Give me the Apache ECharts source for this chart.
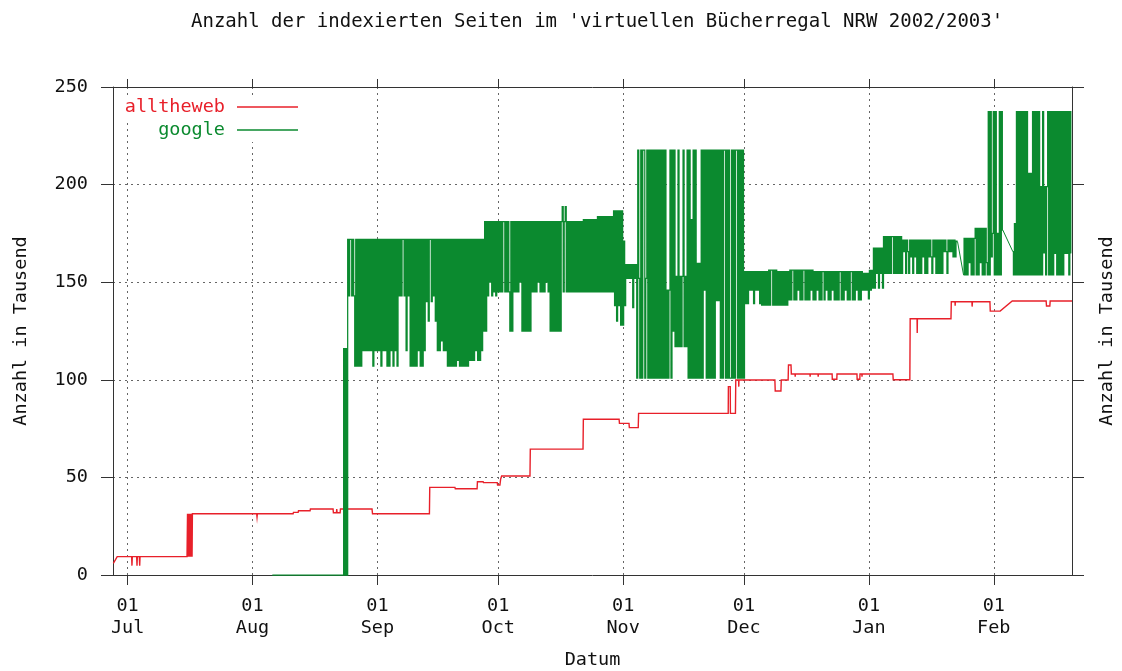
<!DOCTYPE html>
<html><head><meta charset="utf-8">
<script src="https://cdn.jsdelivr.net/npm/echarts@6/dist/echarts.min.js"></script>
<style>html,body{margin:0;padding:0;background:#fff}#c{width:1122px;height:671px}</style>
</head><body><div id="c"></div>
<script>
// ---------- DATA ----------
const titleText = "Anzahl der indexierten Seiten im 'virtuellen Bücherregal NRW 2002/2003'";
const seriesNames = ['alltheweb', 'google'];
const xMin = '2002-06-27 09:00';
const xMax = '2003-02-20 10:00';
const xTickDates = ['2002-07-01','2002-08-01','2002-09-01','2002-10-01','2002-11-01','2002-12-01','2003-01-01','2003-02-01'];
const xTickLabels = ['01\nJul','01\nAug','01\nSep','01\nOct','01\nNov','01\nDec','01\nJan','01\nFeb'];
const yMin = 0, yMax = 250, yStep = 50;

// alltheweb: [time, value in thousands]
const alltheweb = [
['2002-06-27 11:00',6],['2002-06-28 10:00',9.4],
['2002-07-02 00:00',9.4],['2002-07-02 02:00',4.8],['2002-07-02 04:00',9.4],
['2002-07-03 06:00',9.4],['2002-07-03 08:00',4.8],['2002-07-03 10:00',9.4],
['2002-07-03 22:00',9.4],['2002-07-04 00:00',4.8],['2002-07-04 02:00',9.4],
['2002-07-15 18:00',9.4],['2002-07-15 21:00',31.4],['2002-07-16 00:00',9.4],['2002-07-16 03:00',31.4],['2002-07-16 06:00',9.4],['2002-07-16 09:00',31.4],['2002-07-16 12:00',9.4],['2002-07-16 15:00',31.4],['2002-07-16 18:00',9.4],['2002-07-16 21:00',31.4],['2002-07-17 00:00',9.4],['2002-07-17 02:00',31.4],
['2002-08-02 01:00',31.4],['2002-08-02 03:00',29.7],['2002-08-02 05:00',31.4],
['2002-08-11 02:00',31.4],['2002-08-11 04:00',32.1],
['2002-08-12 08:00',32.1],['2002-08-12 10:00',32.9],
['2002-08-15 07:00',32.9],['2002-08-15 09:00',33.8],
['2002-08-21 00:00',33.8],['2002-08-21 02:00',31.9],['2002-08-21 20:00',31.9],['2002-08-21 22:00',33.8],['2002-08-22 00:00',31.9],['2002-08-22 18:00',31.9],['2002-08-22 20:00',33.8],
['2002-08-30 16:00',33.8],['2002-08-30 19:00',31.4],
['2002-09-13 22:00',31.4],['2002-09-14 00:00',44.9],
['2002-09-20 06:00',44.9],['2002-09-20 08:00',44.2],
['2002-09-25 18:00',44.2],['2002-09-25 20:00',47.8],
['2002-09-27 06:00',47.8],['2002-09-27 08:00',47.3],
['2002-09-30 18:00',47.3],['2002-09-30 20:00',46.1],
['2002-10-01 10:00',46.1],['2002-10-01 14:00',49],['2002-10-01 20:00',50.7],
['2002-10-08 21:00',50.7],['2002-10-08 23:00',64.5],
['2002-10-22 01:00',64.5],['2002-10-22 03:00',79.8],
['2002-10-31 00:00',79.8],['2002-10-31 02:00',77.7],
['2002-11-02 11:00',77.7],['2002-11-02 13:00',75.5],
['2002-11-04 18:00',75.5],['2002-11-04 20:00',82.8],
['2002-11-27 02:00',82.8],['2002-11-27 03:00',96.5],['2002-11-27 14:00',96.5],['2002-11-27 15:00',82.8],
['2002-11-28 21:00',82.8],['2002-11-28 23:00',99.9],
['2002-11-29 16:00',99.9],['2002-11-29 17:00',96.5],['2002-11-29 18:00',99.9],
['2002-12-08 16:00',99.9],['2002-12-08 18:00',94.3],
['2002-12-10 04:00',94.3],['2002-12-10 06:00',99.9],
['2002-12-11 23:00',99.9],['2002-12-12 01:00',107.6],
['2002-12-12 16:00',107.6],['2002-12-12 18:00',103],
['2002-12-13 16:00',103],['2002-12-13 17:00',101.6],['2002-12-13 18:00',103],
['2002-12-17 09:00',103],['2002-12-17 10:00',101.6],['2002-12-17 11:00',103],
['2002-12-19 09:00',103],['2002-12-19 10:00',101.6],['2002-12-19 11:00',103],
['2002-12-22 21:00',103],['2002-12-22 22:00',100.3],['2002-12-24 01:00',100.3],['2002-12-24 02:00',103],
['2002-12-29 01:00',103],['2002-12-29 02:00',100.3],['2002-12-29 18:00',100.3],['2002-12-29 19:00',103],
['2002-12-30 06:00',103],['2002-12-30 07:00',101.6],['2002-12-30 08:00',103],
['2003-01-06 23:00',103],['2003-01-07 01:00',100],
['2003-01-11 04:00',100],['2003-01-11 06:00',131.3],
['2003-01-12 23:00',131.3],['2003-01-13 00:00',124],['2003-01-13 01:00',131.3],
['2003-01-21 09:00',131.3],['2003-01-21 11:00',140],
['2003-01-22 09:00',140],['2003-01-22 10:00',138],['2003-01-22 11:00',140],
['2003-01-26 14:00',140],['2003-01-26 15:00',137.5],['2003-01-26 17:00',140],
['2003-01-31 01:00',140],['2003-01-31 03:00',135.2],
['2003-02-02 14:00',135.2],['2003-02-05 14:00',140.4],
['2003-02-14 00:00',140.4],['2003-02-14 02:00',137.8],['2003-02-14 22:00',137.8],['2003-02-15 00:00',140.4],
['2003-02-20 10:00',140.4]
];

// google: readings every 6 hours, one array per contiguous stretch
const googleLead = [['2002-08-05 22:00', 0]];
const googleAugStart = '2002-08-23 12:00';
const googleAug = [0,116,0,116,0,
 172,143,172,172,143,172,143,
 107,172,107,172,107,172,107,172,115,
 172,115,172,115,172,115,172,115,172,107,172,115,172];
const googleSepStart = '2002-09-01 00:00';
const googleSep = [115,172,115,172,107,172,115,172,115,
 172,107,172,107,172,115,172,107,172,115,172,107,172,
 143,172,143,172,172,143,172,115,172,143,172,
 107,172,107,172,107,172,107,172,115,172,107,172,107,172,115,172,
 140,172,130,172,172,140,172,143,172,130,
 172,115,172,115,172,120,172,115,172,115,
 172,107,172,107,172,107,172,107,172,107,172,110,172,107,172,107,172,107,172,107,172,107,172,110,172,
 110,172,110,172,115,172,110,172,110,172,115,172,
 125,181,125,181,
 143,181,150,181,143,181,145,181,143,181];
const googleOctStart = '2002-10-01 00:00';
const googleOct = [145,181,145,181,145,181,181,145,181,145,181,145,
 125,181,125,
 181,145,181,145,181,145,181,150,181,
 125,181,125,181,125,181,125,181,125,181,
 145,181,145,181,145,181,150,181,145,181,145,181,145,181,150,181,145,181,
 125,181,125,181,125,181,125,181,125,181,125,181,
 188.7,145,181,188.7,145,
 181,145,181,145,181,145,181,145,181,145,181,145,181,145,181,145,
 182,145,182,145,182,145,182,145,182,145,182,145,182,145,
 183.6,145,183.6,145,183.6,145,183.6,145,183.6,145,183.6,145,183.6,145,183.6,145,
 186.5,138,186.5,130,186.5,138,186.5,128,186.5];
const googleNovStart = '2002-11-01 00:00';
const googleNov = [128,171,138,159,
 152,159,152,159,152,159,137,159,152,159,
 100.8,217.7,152,
 100.8,217.7,100.8,217.7,217.7,100.8,152,217.7,100.8,217.7,
 100.8,217.7,100.8,217.7,100.8,217.7,100.8,217.7,100.8,217.7,100.8,217.7,100.8,217.7,100.8,217.7,100.8,
 146,100.8,146,
 217.7,100.8,217.7,125,217.7,
 117,153,117,217.7,117,153,117,153,217.7,117,153,117,
 217.7,100.8,217.7,100.8,182,100.8,217.7,100.8,217.7,100.8,
 159.7,100.8,159.7,
 100.8,217.7,100.8,217.7,146,217.7,100.8,217.7,100.8,217.7,100.8,217.7,100.8,217.7,100.8,
 217.7,140.6,217.7,140.6,217.7,
 100.8,217.7,100.8,217.7,217.7,100.8,217.7,100.8,217.7,100.8,100.8,217.7,100.8,217.7,100.8,217.7,217.7,100.8,217.7,100.8,217.7,100.8,217.7];
const googleDecStart = '2002-12-01 00:00';
const googleDec = [100.8,155.4,139,155.4,139,
 155.4,146,155.4,146,155.4,139,155.4,146,155.4,146,155.4,139,
 155.4,138.3,155.4,138.3,155.4,138.3,155.4,
 138.3,156.2,138.3,156.2,156.2,138.3,156.2,138.3,156.2,138.3,
 155.4,138.3,155.4,138.3,155.4,138.3,155.4,138.3,155.4,138.3,155.4,
 140.9,156.2,140.9,156.2,156.2,140.9,156.2,140.9,156.2,146,156.2,140.9,156.2,140.9,156.2,156.2,140.9,156.2,140.9,156.2,140.9,156.2,146,156.2,
 140.9,155.4,140.9,155.4,146,155.4,140.9,155.4,140.9,155.4,155.4,140.9,155.4,146,155.4,140.9,155.4,140.9,155.4,146,155.4,140.9,155.4,
 140.9,155.4,140.9,155.4,155.4,140.9,155.4,140.9,155.4,146,155.4,140.9,155.4,140.9,155.4,155.4,140.9,155.4,140.9,155.4,146,155.4,140.9,155.4,140.9,155.4,146,154.5,146,154.5,146,154.5];
const googleJanStart = '2003-01-01 00:00';
const googleJan = [141.5,156,146,156,
 147,167.4,147,167.4,154.5,167.4,147,167.4,154.5,167.4,147,
 173.3,154.5,173.3,154.5,
 173.3,154.5,173.3,154.5,173.3,173.3,154.5,173.3,154.5,173.3,154.5,173.3,154.5,173.3,154.5,
 171.6,165.6,171.6,154.5,171.6,165.6,154.5,171.6,
 163,171.6,154.5,171.6,163,171.6,154.5,171.6,154.5,171.6,154.5,171.6,163,171.6,154.5,171.6,154.5,
 171.6,163,171.6,163,154.5,171.6,163,171.6,154.5,171.6,
 154.5,171.6,154.5,171.6,154.5,
 171.6,165.6,171.6,165.6,154.5,171.6,165.6,171.6,165.6,171.6,
 163,171.6,163,171,170.8];
const googleLateJanStart = '2003-01-24 12:00';
const googleLateJan = [153.7,172.5,153.7,172.5,153.7,172.5,160,172.5,153.7,172.5,153.7,172.5,
 177.6,153.7,177.6,153.7,177.6,160,177.6,153.7,
 177.6,153.7,177.6,160,153.7,
 237.4,153.7,237.4,163,
 175,
 237.4,153.7,237.4,153.7,175,153.7,237.4,153.7,237.4,176.7];
const googleFebStart = '2003-02-05 18:00';
const googleFeb = [165.6,153.7,180,153.7,237.4,
 153.7,237.4,153.7,237.4,153.7,237.4,153.7,237.4,153.7,237.4,153.7,
 205.8,153.7,205.8,153.7,
 237.4,153.7,237.4,153.7,237.4,153.7,237.4,153.7,
 199,153.7,237.4,165,199,153.7,199,
 237.4,153.7,237.4,153.7,237.4,153.7,237.4,164.8,237.4,153.7,237.4,153.7,237.4,153.7,237.4,153.7,237.4,164.8,237.4,164.8,237.4,153.7,237.4,165];

// ---------- BUILD ----------
function ts(s) {
  const m = s.match(/(\d+)-(\d+)-(\d+)(?:\s+(\d+):(\d+))?/);
  return new Date(+m[1], +m[2] - 1, +m[3], +(m[4] || 0), +(m[5] || 0)).getTime();
}
const STEP = 6 * 3600 * 1000;
function stretch(start, vals) { const t0 = ts(start); return vals.map((v, i) => [t0 + i * STEP, v]); }
const redData = alltheweb.map(p => [ts(p[0]), p[1]]);
const sMain = [].concat(
  googleLead.map(p => [ts(p[0]), p[1]]),
  stretch(googleAugStart, googleAug),
  stretch(googleSepStart, googleSep),
  stretch(googleOctStart, googleOct),
  stretch(googleNovStart, googleNov),
  stretch(googleDecStart, googleDec),
  stretch(googleJanStart, googleJan)
);
const sLate = stretch(googleLateJanStart, googleLateJan);
const sFeb = stretch(googleFebStart, googleFeb);
const greenStretches = [sMain, sLate, sFeb];
// straight joins across the gaps without readings
const greenJoins = [sMain[sMain.length - 1], sLate[0], [null, null], sLate[sLate.length - 1], sFeb[0]];

const xTickVals = xTickDates.map(ts);
function xFmt(v) {
  let best = -1, bd = Infinity;
  xTickVals.forEach((t, i) => { const d = Math.abs(t - v); if (d < bd) { bd = d; best = i; } });
  return bd < 86400000 ? xTickLabels[best] : '';
}

const FONT = '"DejaVu Sans Mono", "Liberation Mono", monospace';
const RED = '#e8202a', GREEN = '#0b8a2f', AXIS = '#333', GRID = '#666', TXT = '#111';
const FS = 18.5;
const gridLine = { show: true, lineStyle: { color: GRID, width: 1, type: [2, 4] } };

// each stretch drawn as a sampled step path, mapped through the axes with api.coord
function renderStretch(params, api) {
  const s = greenStretches[api.value(2)];
  const pts = [];
  for (let i = 0; i < s.length; i++) {
    const p = api.coord([s[i][0], s[i][1]]);
    if (i > 0) {
      const prev = pts[pts.length - 1];
      const mx = (prev[0] + p[0]) / 2;
      pts.push([mx, prev[1]], [mx, p[1]]);
    }
    pts.push(p);
  }
  return { type: 'polyline', shape: { points: pts },
    style: { stroke: GREEN, lineWidth: 1.25, fill: null, lineJoin: 'miter' } };
}
// red drawn the same way (no segment skipping), straight between readings
function renderRed(params, api) {
  const pts = redData.map(p => api.coord(p));
  return { type: 'polyline', shape: { points: pts },
    style: { stroke: RED, lineWidth: 1.4, fill: null } };
}

const chart = echarts.init(document.getElementById('c'), null, { renderer: 'canvas' });
chart.setOption({
  animation: false,
  backgroundColor: '#fff',
  textStyle: { fontFamily: FONT },
  title: { text: titleText, left: 186, top: 8,
    textStyle: { fontFamily: FONT, fontSize: 19, fontWeight: 'normal', color: TXT } },
  legend: [
    { data: [seriesNames[0]], right: 822, top: 95, orient: 'vertical', align: 'right', icon: 'rect',
      itemWidth: 61, itemHeight: 1.5, padding: [1, 2, 1, 6], backgroundColor: '#fff', selectedMode: false,
      textStyle: { fontFamily: FONT, fontSize: FS, color: RED, lineHeight: 22, padding: [0, 7, 0, 0] } },
    { data: [seriesNames[1]], right: 822, top: 118, orient: 'vertical', align: 'right', icon: 'rect',
      itemWidth: 61, itemHeight: 1.5, padding: [1, 2, 1, 6], backgroundColor: '#fff', selectedMode: false,
      textStyle: { fontFamily: FONT, fontSize: FS, color: GREEN, lineHeight: 22, padding: [0, 7, 0, 0] } }
  ],
  grid: { left: 113, right: 50, top: 87, bottom: 96, containLabel: false, outerBoundsMode: 'none' },
  xAxis: [
    { type: 'value', min: ts(xMin), max: ts(xMax), position: 'bottom', scale: true,
      name: 'Datum', nameLocation: 'middle', nameGap: 76,
      nameTextStyle: { fontFamily: FONT, fontSize: FS, color: TXT },
      axisLine: { show: true, onZero: false, lineStyle: { color: AXIS, width: 1 } },
      axisTick: { show: true, inside: false, length: 10, customValues: xTickVals, lineStyle: { color: AXIS } },
      axisLabel: { show: true, customValues: xTickVals, formatter: xFmt, margin: 20, fontFamily: FONT,
        fontSize: FS, lineHeight: 22, color: TXT, hideOverlap: false, showMinLabel: true, showMaxLabel: true },
      splitLine: gridLine },
    { type: 'value', min: ts(xMin), max: ts(xMax), position: 'top', scale: true,
      axisLine: { show: true, onZero: false, lineStyle: { color: AXIS, width: 1 } },
      axisTick: { show: true, inside: false, length: 8, customValues: xTickVals, lineStyle: { color: AXIS } },
      axisLabel: { show: false }, splitLine: { show: false } }
  ],
  yAxis: [
    { type: 'value', min: yMin, max: yMax, interval: yStep, position: 'left',
      name: 'Anzahl in Tausend', nameLocation: 'middle', nameRotate: 90, nameGap: 82,
      nameTextStyle: { fontFamily: FONT, fontSize: FS, color: TXT },
      axisLine: { show: true, onZero: false, lineStyle: { color: AXIS, width: 1 } },
      axisTick: { show: true, inside: false, length: 12, lineStyle: { color: AXIS } },
      axisLabel: { margin: 25, fontFamily: FONT, fontSize: FS, color: TXT },
      splitLine: gridLine },
    { type: 'value', min: yMin, max: yMax, interval: yStep, position: 'right',
      name: 'Anzahl in Tausend', nameLocation: 'middle', nameRotate: 90, nameGap: 26,
      nameTextStyle: { fontFamily: FONT, fontSize: FS, color: TXT },
      axisLine: { show: true, onZero: false, lineStyle: { color: AXIS, width: 1 } },
      axisTick: { show: true, inside: false, length: 12, lineStyle: { color: AXIS } },
      axisLabel: { show: false }, splitLine: { show: false } }
  ],
  series: [
    { name: seriesNames[0], type: 'custom', xAxisIndex: 0, yAxisIndex: 0,
      data: [redData[0]], encode: { x: 0, y: 1 }, renderItem: renderRed, clip: false, z: 3,
      itemStyle: { color: RED } },
    { name: seriesNames[1], type: 'custom', xAxisIndex: 0, yAxisIndex: 0,
      data: greenStretches.map((s, k) => [s[0][0], s[0][1], k]),
      encode: { x: 0, y: 1 }, renderItem: renderStretch, clip: false, z: 4,
      itemStyle: { color: GREEN } },
    { name: seriesNames[1], type: 'line', xAxisIndex: 0, yAxisIndex: 0, data: greenJoins,
      connectNulls: false,
      showSymbol: false, symbol: 'none', clip: false, z: 4,
      lineStyle: { width: 1, color: GREEN }, itemStyle: { color: GREEN } }
  ]
});
</script></body></html>
